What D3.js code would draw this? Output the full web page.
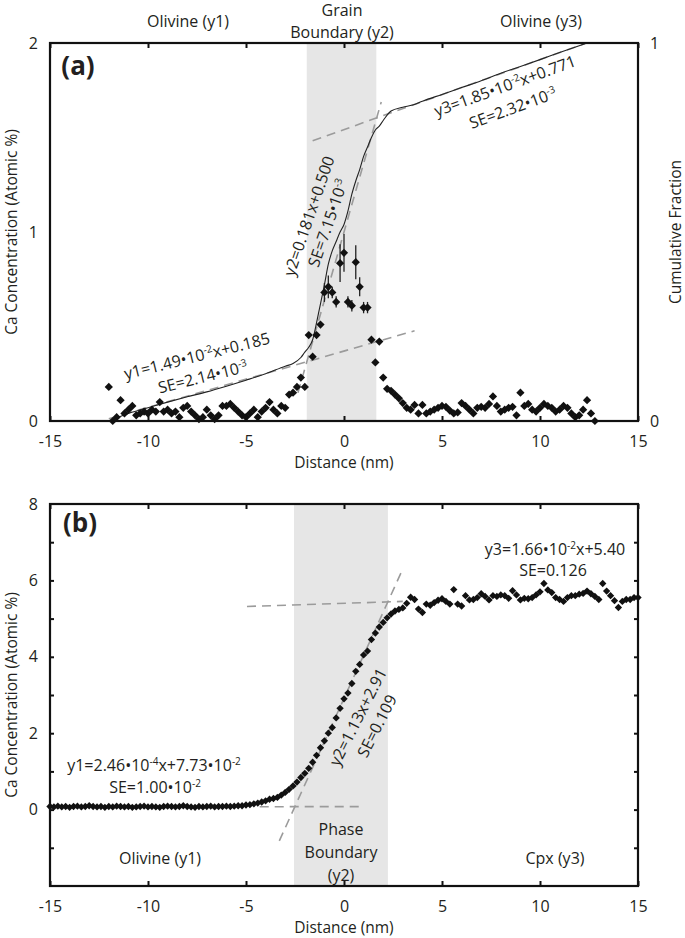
<!DOCTYPE html>
<html><head><meta charset="utf-8">
<script src="https://cdn.jsdelivr.net/npm/d3@7/dist/d3.min.js"></script>
<style>
body{margin:0;background:#fff}
text{font-family:"Open Sans",sans-serif;fill:#231f20}
</style>
</head><body>
<svg id="c" width="685" height="938"></svg>
<script>
// ---------- Panel (a) data ----------
const aX = [-12.0,-11.8,-11.6,-11.4,-11.2,-11.0,-10.8,-10.6,-10.4,-10.2,-10.0,-9.8,-9.6,-9.4,-9.2,-9.0,-8.8,-8.6,-8.4,-8.2,
  -8.0,-7.8,-7.6,-7.4,-7.2,-7.0,-6.8,-6.6,-6.4,-6.2,-6.0,-5.8,-5.6,-5.4,-5.2,-5.0,-4.8,-4.6,-4.4,-4.2,
  -4.0,-3.8,-3.6,-3.4,-3.2,-3.0,-2.8,-2.6,-2.4,-2.2,-2.0,-1.8,-1.6,-1.4,-1.2,-1.0,-0.8,-0.6,-0.4,-0.2,
  0.0,0.2,0.4,0.6,0.8,1.0,1.2,1.4,1.6,1.8,2.0,2.2,2.4,2.6,2.8,3.0,3.2,3.4,3.6,3.8,
  4.0,4.2,4.4,4.6,4.8,5.0,5.2,5.4,5.6,5.8,6.0,6.2,6.4,6.6,6.8,7.0,7.2,7.4,7.6,7.8,
  8.0,8.2,8.4,8.6,8.8,9.0,9.2,9.4,9.6,9.8,10.0,10.2,10.4,10.6,10.8,11.0,11.2,11.4,11.6,11.8,
  12.0,12.2,12.4,12.6,12.8];
const aCa = [0.18,0.00,0.02,0.11,0.04,0.06,0.08,0.03,0.04,0.05,0.04,0.06,0.05,0.10,0.05,0.06,0.04,0.05,0.02,0.07,
  0.08,0.05,0.03,0.01,0.02,0.06,0.03,0.01,0.03,0.08,0.08,0.09,0.07,0.05,0.03,0.02,0.04,0.06,0.02,0.05,
  0.07,0.10,0.06,0.04,0.08,0.07,0.14,0.15,0.18,0.23,0.18,0.455,0.34,0.455,0.51,0.68,0.71,0.68,0.63,0.835,
  0.89,0.63,0.61,0.84,0.71,0.60,0.60,0.43,0.31,0.42,0.23,0.17,0.16,0.14,0.12,0.095,0.07,0.06,0.085,0.04,
  0.085,0.04,0.05,0.06,0.07,0.08,0.075,0.055,0.04,0.045,0.095,0.08,0.06,0.04,0.07,0.075,0.07,0.09,0.13,0.08,
  0.05,0.06,0.07,0.075,0.03,0.15,0.08,0.09,0.06,0.05,0.07,0.09,0.08,0.07,0.05,0.06,0.08,0.07,0.04,0.02,
  0.03,0.06,0.11,0.04,0.00];
const aErr = [0,0,0,0,0,0,0,0,0,0,0,0,0,0,0,0,0,0,0,0,
  0,0,0,0,0,0,0,0,0,0,0,0,0,0,0,0,0,0,0,0,
  0,0,0,0,0,0,0,0,0,0,0,0,0,0,0,0.05,0.06,0.03,0.03,0.10,
  0.10,0.03,0.03,0.09,0.05,0.03,0.03,0,0,0,0,0,0,0,0,0,0,0,0,0,
  0,0,0,0,0,0,0,0,0,0,0,0,0,0,0,0,0,0,0,0,
  0,0,0,0,0,0,0,0,0,0,0,0,0,0,0,0,0,0,0,0,
  0,0,0,0,0];
// cumulative fraction curve (right axis)
const cumX = [-12,-11,-10,-9,-8,-7,-6,-5,-4,-3,-2.6,-2.2,-2.0,-1.8,-1.6,-1.4,-1.2,-1.0,-0.8,-0.6,-0.4,-0.2,
  0,0.2,0.4,0.6,0.8,1.0,1.2,1.4,1.6,1.8,2.0,2.4,3.0,3.5,4,5,6,7,8,9,10,11,12,12.4];
const cumF = [0,0.02,0.035,0.05,0.064,0.077,0.092,0.108,0.125,0.145,0.152,0.168,0.182,0.195,0.215,0.26,0.31,0.36,0.415,0.45,0.475,0.50,
  0.52,0.555,0.60,0.635,0.665,0.70,0.725,0.75,0.77,0.78,0.795,0.82,0.83,0.836,0.846,0.864,0.882,0.90,0.92,0.938,0.956,0.975,0.993,1.0];
// linear fits (cumulative): slope, intercept, x-start, x-end
const aFitSlope = [1.49e-2, 0.181, 1.85e-2];
const aFitIntercept = [0.185, 0.500, 0.771];
const aFitFrom = [-12, -2.35, -1.6];
const aFitTo = [3.6, 1.9, 12.3];
const aBand = [-1.9, 1.65];

// ---------- Panel (b) data ----------
const bXlist = [-15.0,-14.8,-14.6,-14.4,-14.2,-14.0,-13.8,-13.6,-13.4,-13.2,-13.0,-12.8,-12.6,-12.4,-12.2,-12.0,-11.8,-11.6,-11.4,-11.2,
  -11.0,-10.8,-10.6,-10.4,-10.2,-10.0,-9.8,-9.6,-9.4,-9.2,-9.0,-8.8,-8.6,-8.4,-8.2,-8.0,-7.8,-7.6,-7.4,-7.2,
  -7.0,-6.8,-6.6,-6.4,-6.2,-6.0,-5.8,-5.6,-5.4,-5.2,-5.0,-4.8,-4.6,-4.4,-4.2,-4.0,-3.8,-3.6,-3.4,-3.2,
  -3.0,-2.8,-2.6,-2.4,-2.2,-2.0,-1.8,-1.6,-1.4,-1.2,-1.0,-0.8,-0.6,-0.4,-0.2,0.0,0.2,0.4,0.6,0.8,
  1.0,1.2,1.4,1.6,1.8,2.0,2.2,2.4,2.6,2.8,3.0,3.2,3.4,3.6,3.8,4.0,4.2,4.4,4.6,4.8,
  5.0,5.2,5.4,5.6,5.8,6.0,6.2,6.4,6.6,6.8,7.0,7.2,7.4,7.6,7.8,8.0,8.2,8.4,8.6,8.8,
  9.0,9.2,9.4,9.6,9.8,10.0,10.2,10.4,10.6,10.8,11.0,11.2,11.4,11.6,11.8,12.0,12.2,12.4,12.6,12.8,
  13.0,13.2,13.4,13.6,13.8,14.0,14.2,14.4,14.6,14.8,15.0];
const bCa = [0.08,0.07,0.09,0.07,0.08,0.06,0.08,0.09,0.07,0.08,0.10,0.08,0.07,0.08,0.06,0.08,0.07,0.09,0.08,0.07,
  0.08,0.06,0.07,0.08,0.09,0.07,0.08,0.07,0.06,0.08,0.09,0.08,0.07,0.08,0.10,0.08,0.07,0.06,0.08,0.07,
  0.08,0.09,0.07,0.08,0.08,0.09,0.08,0.09,0.10,0.10,0.12,0.13,0.15,0.17,0.20,0.23,0.27,0.29,0.32,0.38,
  0.45,0.53,0.62,0.72,0.84,0.95,1.08,1.24,1.42,1.62,1.80,2.00,2.15,2.40,2.65,2.90,3.05,3.30,3.62,3.80,
  4.05,4.15,4.45,4.62,4.78,4.90,5.02,5.12,5.20,5.24,5.28,5.40,5.56,5.50,5.25,5.16,5.38,5.35,5.42,5.48,
  5.52,5.45,5.38,5.76,5.38,5.33,5.60,5.49,5.50,5.55,5.65,5.58,5.49,5.60,5.58,5.62,5.60,5.53,5.73,5.62,
  5.49,5.53,5.52,5.55,5.62,5.70,5.92,5.75,5.68,5.55,5.50,5.45,5.55,5.60,5.60,5.64,5.66,5.72,5.65,5.58,
  5.50,5.92,5.72,5.60,5.47,5.29,5.45,5.50,5.50,5.55,5.55];
const bFitSlope = [2.46e-4, 1.13, 1.66e-2];
const bFitIntercept = [7.73e-2, 2.91, 5.40];
const bFitFrom = [-4.3, -3.3, -4.95];
const bFitTo = [0.9, 2.95, 3.0];
const bBand = [-2.55, 2.24];

const xTicks = [-15,-10,-5,0,5,10,15];
const aYTicks = [0,1,2];
const aRTicks = [0,1];
const bYTicks = [0,2,4,6,8];
const bMinor = [-1,0,1,2,3,4,5,6,7];

// ---------- helpers ----------
const svg = d3.select("#c");
const GRAY_BAND = "#e6e6e6", DASH = "#9b9b9b", INK = "#231f20";
const FS = 16;

function rich(g, str, opts){
  const t = g.append("text").attr("text-anchor", opts.anchor||"middle")
    .attr("font-size", opts.size||FS).attr("dy", opts.dy||"0.35em");
  const parts = str.split(/(\^\{[^}]*\})/);
  let raised = false;
  parts.forEach(p=>{
    if(!p) return;
    if(p.startsWith("^{")){
      t.append("tspan").attr("dy", -6).attr("font-size", 10).text(p.slice(2,-1));
      raised = true;
    } else {
      const s = t.append("tspan").text(p);
      if(raised){ s.attr("dy", 6); raised=false; }
    }
  });
  return t;
}
function label(x, y, rot, str, size, anchor){
  const g = svg.append("g").attr("transform", `translate(${x},${y}) rotate(${rot||0})`);
  return rich(g, str, {size: size||FS, anchor: anchor});
}
function diamond(g, data, xs, ys, area){
  const sym = d3.symbol(d3.symbolSquare, area);
  g.selectAll("path.pt").data(data).join("path").attr("class","pt")
    .attr("d", sym)
    .attr("transform", d=>`translate(${xs(d[0])},${ys(d[1])}) rotate(45)`)
    .attr("fill", "#111");
}
const fmt = d => String(d);
function styleTicks(g){
  g.select(".domain").remove();
  g.selectAll("line").attr("stroke","#111").attr("stroke-width",2);
  g.selectAll("text").attr("font-size",FS).attr("font-family","Open Sans").attr("fill",INK);
}

// ---------- Panel (a) ----------
const L=50, R=638;
const xa = d3.scaleLinear([-15,15],[L,R]);
const ya = d3.scaleLinear([0,2],[421,43]);
const yaR = d3.scaleLinear([0,1],[421,43]);
const ga = svg.append("g");
ga.append("rect").attr("x", xa(aBand[0])).attr("y", 43).attr("width", xa(aBand[1])-xa(aBand[0])).attr("height", 421-43).attr("fill", GRAY_BAND);

aFitSlope.forEach((m,i)=>{
  ga.append("line").attr("x1", xa(aFitFrom[i])).attr("x2", xa(aFitTo[i]))
    .attr("y1", yaR(m*aFitFrom[i]+aFitIntercept[i])).attr("y2", yaR(m*aFitTo[i]+aFitIntercept[i]))
    .attr("stroke", DASH).attr("stroke-width", 1.6).attr("stroke-dasharray", "9,6");
});
ga.append("path").datum(cumX.map((x,i)=>[x,cumF[i]]))
  .attr("d", d3.line().x(d=>xa(d[0])).y(d=>yaR(d[1])).curve(d3.curveMonotoneX))
  .attr("fill","none").attr("stroke","#222").attr("stroke-width",1.1);

const aPts = aX.map((x,i)=>[x,aCa[i],aErr[i]]);
ga.selectAll("line.err").data(aPts.filter(d=>d[2]>0)).join("line").attr("class","err")
  .attr("x1", d=>xa(d[0])).attr("x2", d=>xa(d[0]))
  .attr("y1", d=>ya(d[1]-d[2])).attr("y2", d=>ya(d[1]+d[2]))
  .attr("stroke","#222").attr("stroke-width",1.3);
diamond(ga, aPts, xa, ya, 34);

ga.append("g").attr("transform","translate(0,421)")
  .call(d3.axisBottom(xa).tickValues(xTicks).tickSize(-5).tickPadding(15).tickFormat(fmt)).call(styleTicks);
ga.append("g").attr("transform","translate(0,43)")
  .call(d3.axisTop(xa).tickValues(xTicks).tickSize(-5).tickFormat("")).call(styleTicks);
ga.append("g").attr("transform",`translate(${L},0)`)
  .call(d3.axisLeft(ya).tickValues(aYTicks).tickSize(0).tickPadding(12).tickFormat(fmt)).call(styleTicks);
ga.append("g").attr("transform",`translate(${R},0)`)
  .call(d3.axisRight(yaR).tickValues(aRTicks).tickSize(0).tickPadding(12).tickFormat(fmt)).call(styleTicks);
ga.append("rect").attr("x",L).attr("y",43).attr("width",R-L).attr("height",421-43)
  .attr("fill","none").attr("stroke","#111").attr("stroke-width",2.2);

label((L+R)/2, 463, 0, "Distance (nm)", 15.5);
label(12, 232, -90, "Ca Concentration (Atomic %)", 15.5);
label(676, 232, -90, "Cumulative Fraction", 15.5);
label(188, 21, 0, "Olivine (y1)");
label(342, 10, 0, "Grain");
label(342, 32, 0, "Boundary (y2)");
label(541, 21, 0, "Olivine (y3)");
label(78, 66, 0, "(a)", 26).attr("font-weight","bold");
label(197, 356, -14, "y1=1.49•10^{-2}x+0.185");
label(203, 377, -14, "SE=2.14•10^{-3}");
label(309, 216, -71, "y2=0.181x+0.500");
label(328, 223, -71, "SE=7.15•10^{-3}");
label(505, 86, -20, "y3=1.85•10^{-2}x+0.771");
label(513, 108, -20, "SE=2.32•10^{-3}");

// ---------- Panel (b) ----------
const xb = d3.scaleLinear([-15,15],[L,R]);
const yb = d3.scaleLinear([-2,8],[886,504]);
const gb = svg.append("g");
gb.append("rect").attr("x", xb(bBand[0])).attr("y", 504).attr("width", xb(bBand[1])-xb(bBand[0])).attr("height", 886-504).attr("fill", GRAY_BAND);
bFitSlope.forEach((m,i)=>{
  gb.append("line").attr("x1", xb(bFitFrom[i])).attr("x2", xb(bFitTo[i]))
    .attr("y1", yb(m*bFitFrom[i]+bFitIntercept[i])).attr("y2", yb(m*bFitTo[i]+bFitIntercept[i]))
    .attr("stroke", DASH).attr("stroke-width", 1.6).attr("stroke-dasharray", "9,6");
});
diamond(gb, bXlist.map((x,i)=>[x,bCa[i]]), xb, yb, 27);

gb.append("g").attr("transform","translate(0,886)")
  .call(d3.axisBottom(xb).tickValues(xTicks).tickSize(-5).tickPadding(15).tickFormat(fmt)).call(styleTicks);
gb.append("g").attr("transform","translate(0,504)")
  .call(d3.axisTop(xb).tickValues(xTicks).tickSize(-5).tickFormat("")).call(styleTicks);
gb.append("g").attr("transform",`translate(${L},0)`)
  .call(d3.axisLeft(yb).tickValues(bYTicks).tickSize(0).tickPadding(12).tickFormat(fmt)).call(styleTicks);
gb.append("g").attr("transform",`translate(${L},0)`)
  .call(d3.axisLeft(yb).tickValues(bMinor).tickSize(-4).tickFormat("")).call(styleTicks);
gb.append("g").attr("transform",`translate(${R},0)`)
  .call(d3.axisRight(yb).tickValues(bMinor).tickSize(-4).tickFormat("")).call(styleTicks);
gb.append("rect").attr("x",L).attr("y",504).attr("width",R-L).attr("height",886-504)
  .attr("fill","none").attr("stroke","#111").attr("stroke-width",2.2);

label((L+R)/2, 928, 0, "Distance (nm)", 15.5);
label(12, 695, -90, "Ca Concentration (Atomic %)", 15.5);
label(80, 523, 0, "(b)", 26).attr("font-weight","bold");
label(555, 549, 0, "y3=1.66•10^{-2}x+5.40");
label(553, 570, 0, "SE=0.126");
label(154, 765, 0, "y1=2.46•10^{-4}x+7.73•10^{-2}");
label(155, 787, 0, "SE=1.00•10^{-2}");
label(358, 717, -63, "y2=1.13x+2.91");
label(377, 726, -63, "SE=0.109");
label(160, 858, 0, "Olivine (y1)");
label(341, 829, 0, "Phase");
label(341, 852, 0, "Boundary");
label(341, 875, 0, "(y2)");
label(555, 858, 0, "Cpx (y3)");
</script>
</body></html>
